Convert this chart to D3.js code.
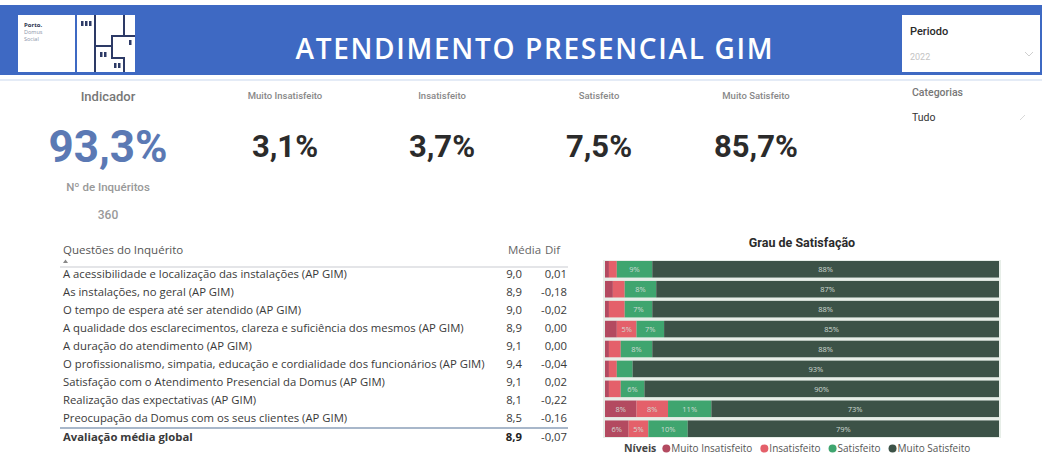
<!DOCTYPE html>
<html>
<head>
<meta charset="utf-8">
<script src="https://cdn.jsdelivr.net/npm/d3@7"></script>
<style>
  body { margin: 0; background: #fff; }
  svg { display: block; }
  .ui { font-family: "Open Sans", "Noto Sans", sans-serif; }
  .din { font-family: Roboto, "DejaVu Sans", sans-serif; }
</style>
</head>
<body>
<div id="chart"></div>
<script>
// ---------------- data ----------------
var title = "ATENDIMENTO PRESENCIAL GIM";
var periodo = "2022";
var categoria = "Tudo";
var indicador = 93.3;
var inqueritos = 360;

var levels = ["Muito Insatisfeito", "Insatisfeito", "Satisfeito", "Muito Satisfeito"];
var levelColors = ["#b34a60", "#e4606a", "#3fa56f", "#3c5247"];
var kpiValues = [3.1, 3.7, 7.5, 85.7];

var questions = [
  "A acessibilidade e localização das instalações (AP GIM)",
  "As instalações, no geral (AP GIM)",
  "O tempo de espera até ser atendido (AP GIM)",
  "A qualidade dos esclarecimentos, clareza e suficiência dos mesmos (AP GIM)",
  "A duração do atendimento (AP GIM)",
  "O profissionalismo, simpatia, educação e cordialidade dos funcionários (AP GIM)",
  "Satisfação com o Atendimento Presencial da Domus (AP GIM)",
  "Realização das expectativas (AP GIM)",
  "Preocupação da Domus com os seus clientes (AP GIM)"
];
var media = [9.0, 8.9, 9.0, 8.9, 9.1, 9.4, 9.1, 8.1, 8.5];
var dif = [0.01, -0.18, -0.02, 0.00, 0.00, -0.04, 0.02, -0.22, -0.16];
var totalLabel = "Avaliação média global";
var totalMedia = 8.9, totalDif = -0.07;

// % per level for each question (stacked bar)
var muitoInsatisfeito = [1, 2, 1, 3, 1, 1, 1, 8, 6];
var insatisfeito      = [2, 3, 4, 5, 3, 2, 3, 8, 5];
var satisfeito        = [9, 8, 7, 7, 8, 4, 6, 11, 10];
var muitoSatisfeito   = [88, 87, 88, 85, 88, 93, 90, 73, 79];

// ---------------- setup ----------------
var width = 1042, height = 454;
var pt = d3.formatLocale({decimal: ",", thousands: ".", grouping: [3], currency: ["", "€"], minus: "-"});
var f1 = pt.format(".1f"), f2 = pt.format(".2f");

var svg = d3.select("#chart").append("svg")
    .attr("width", width).attr("height", height);

// ---------------- header ----------------
svg.append("rect").attr("x", 0).attr("y", 5).attr("width", width).attr("height", 70)
    .style("fill", "#3e69c3");
svg.append("line").attr("x1", 0).attr("x2", width).attr("y1", 80).attr("y2", 80)
    .style("stroke", "#dbe5f3").style("stroke-width", 1.5);

// logo
var logo = svg.append("g");
logo.append("rect").attr("x", 18).attr("y", 15).attr("width", 57).attr("height", 57).style("fill", "#fff");
logo.append("rect").attr("x", 77).attr("y", 15).attr("width", 58).attr("height", 57).style("fill", "#fff");
logo.append("text").attr("class", "ui").attr("x", 24).attr("y", 27).style("font-size", "6px")
    .style("font-weight", 700).style("fill", "#2b3550").text("Porto.");
logo.append("text").attr("class", "ui").attr("x", 24).attr("y", 34).style("font-size", "5.5px")
    .style("fill", "#8a93a8").text("Domus");
logo.append("text").attr("class", "ui").attr("x", 24).attr("y", 41).style("font-size", "5.5px")
    .style("fill", "#8a93a8").text("Social");
logo.append("path")
    .attr("d", "M95,15 V72 M95,46 H112 V36 H124 V15 M112,46 V58 H124 V72 M124,36 H135")
    .style("fill", "none").style("stroke", "#2d3a66").style("stroke-width", 2);
[[81, 21], [85, 21], [89, 21], [100, 52], [104, 52], [114, 63], [118, 63], [129, 40]].forEach(function(p) {
  logo.append("rect").attr("x", p[0]).attr("y", p[1]).attr("width", 2.5).attr("height", 5).style("fill", "#2d3a66");
});

svg.append("text").attr("class", "ui")
    .attr("x", 534).attr("y", 59)
    .attr("text-anchor", "middle")
    .style("font-size", "28px").style("font-weight", 600).style("fill", "#fff")
    .attr("textLength", 477).attr("lengthAdjust", "spacing")
    .text(title);

// periodo slicer
svg.append("rect").attr("x", 902).attr("y", 15).attr("width", 138).attr("height", 57).style("fill", "#fff");
svg.append("text").attr("class", "din").attr("x", 910).attr("y", 35)
    .style("font-size", "11px").style("font-weight", 500).style("fill", "#2a2a2a").text("Periodo");
svg.append("text").attr("class", "din").attr("x", 910).attr("y", 60)
    .style("font-size", "9px").style("fill", "#c4c4c4").text(periodo);
svg.append("path").attr("d", "M1025,52 L1029,56 L1033,52").style("fill", "none")
    .style("stroke", "#cfcfcf").style("stroke-width", 1);

svg.append("text").attr("class", "din").attr("x", 912).attr("y", 96)
    .style("font-size", "10.5px").style("font-weight", 500).style("fill", "#777").text("Categorias");
svg.append("text").attr("class", "din").attr("x", 912).attr("y", 121)
    .style("font-size", "10.5px").style("fill", "#333").text(categoria);
svg.append("path").attr("d", "M1020,120 L1025,115").style("stroke", "#d8d8d8").style("stroke-width", 1);

// ---------------- KPI cards ----------------
svg.append("text").attr("class", "din").attr("x", 108).attr("y", 101).attr("text-anchor", "middle")
    .style("font-size", "13px").style("font-weight", 500).style("fill", "#777").text("Indicador");
svg.append("text").attr("class", "din").attr("x", 108).attr("y", 162).attr("text-anchor", "middle")
    .style("font-size", "44px").style("font-weight", 700).style("fill", "#5b79b4")
    .text(f1(indicador) + "%");
svg.append("text").attr("class", "din").attr("x", 108).attr("y", 191).attr("text-anchor", "middle")
    .style("font-size", "11.5px").style("font-weight", 500).style("fill", "#999").text("Nº de Inquéritos");
svg.append("text").attr("class", "din").attr("x", 108).attr("y", 219).attr("text-anchor", "middle")
    .style("font-size", "12px").style("font-weight", 500).style("fill", "#999").text(inqueritos);

var kpiX = d3.scalePoint().domain(levels).range([285, 756]);
var kpi = svg.append("g").selectAll("g").data(levels).enter().append("g")
    .attr("transform", function(d) { return "translate(" + kpiX(d) + ",0)"; });
kpi.append("text").attr("class", "din").attr("y", 99).attr("text-anchor", "middle")
    .style("font-size", "9.5px").style("font-weight", 500).style("fill", "#888")
    .text(function(d) { return d; });
kpi.append("text").attr("class", "din").attr("y", 157).attr("text-anchor", "middle")
    .style("font-size", "31px").style("font-weight", 700).style("fill", "#2b2b2b")
    .text(function(d, i) { return f1(kpiValues[i]) + "%"; });

// ---------------- table ----------------
var tableLeft = 63, colMedia = 522, colDif = 567, fs = "11.3px";
var tbl = svg.append("g").attr("class", "ui");
tbl.append("text").attr("x", tableLeft).attr("y", 254)
    .style("font-size", "11.5px").style("fill", "#555").text("Questões do Inquérito");
tbl.append("path").attr("d", "M63,263 L65.5,259.5 L68,263 Z").style("fill", "#888");
tbl.append("text").attr("x", 508).attr("y", 254)
    .style("font-size", "11.5px").style("fill", "#666").text("Média");
tbl.append("text").attr("x", 545).attr("y", 254)
    .style("font-size", "11.5px").style("fill", "#666").text("Dif");
tbl.append("line").attr("x1", 60).attr("x2", 568).attr("y1", 267).attr("y2", 267)
    .style("stroke", "#c9ccd2").style("stroke-width", 1.2);

var rowY = d3.scaleBand().domain(questions).range([265, 427]);
var rows = tbl.selectAll(".row").data(questions).enter().append("g")
    .attr("class", "row")
    .attr("transform", function(d) { return "translate(0," + (rowY(d) + rowY.bandwidth() / 2 + 4) + ")"; });
rows.append("text").attr("x", tableLeft)
    .style("font-size", fs).style("fill", "#3a3a3a").text(function(d) { return d; });
rows.append("text").attr("x", colMedia).attr("text-anchor", "end")
    .style("font-size", fs).style("fill", "#3a3a3a").text(function(d, i) { return f1(media[i]); });
rows.append("text").attr("x", colDif).attr("text-anchor", "end")
    .style("font-size", fs).style("fill", "#3a3a3a").text(function(d, i) { return f2(dif[i]); });

tbl.append("line").attr("x1", 60).attr("x2", 568).attr("y1", 428).attr("y2", 428)
    .style("stroke", "#8b9fb8").style("stroke-width", 1.4);
var totY = 441;
tbl.append("text").attr("x", tableLeft).attr("y", totY)
    .style("font-size", fs).style("font-weight", 700).style("fill", "#3a3a3a").text(totalLabel);
tbl.append("text").attr("x", colMedia).attr("y", totY).attr("text-anchor", "end")
    .style("font-size", fs).style("font-weight", 700).style("fill", "#222").text(f1(totalMedia));
tbl.append("text").attr("x", colDif).attr("y", totY).attr("text-anchor", "end")
    .style("font-size", fs).style("fill", "#3a3a3a").text(f2(totalDif));

// ---------------- stacked bar ----------------
svg.append("text").attr("class", "din").attr("x", 802).attr("y", 247).attr("text-anchor", "middle")
    .style("font-size", "12.5px").style("font-weight", 700).style("fill", "#2b2b2b").text("Grau de Satisfação");

var barData = questions.map(function(q, i) {
  return {q: q, "Muito Insatisfeito": muitoInsatisfeito[i], "Insatisfeito": insatisfeito[i],
          "Satisfeito": satisfeito[i], "Muito Satisfeito": muitoSatisfeito[i]};
});
var stack = d3.stack().keys(levels)(barData);

var x = d3.scaleLinear().domain([0, 100]).range([605, 999]);
var y = d3.scaleBand().domain(questions).range([261, 437]).paddingInner(0.17);
var color = d3.scaleOrdinal().domain(levels).range(levelColors);

svg.append("rect").attr("x", x(0) - 2).attr("y", y.range()[0] - 1)
    .attr("width", x(100) - x(0) + 4).attr("height", y.range()[1] - y.range()[0] + 2)
    .style("fill", "#e7eee8");

var layer = svg.append("g").selectAll("g").data(stack).enter().append("g")
    .style("fill", function(d) { return color(d.key); });
layer.selectAll("rect").data(function(d) { return d; }).enter().append("rect")
    .attr("x", function(d) { return x(d[0]); })
    .attr("y", function(d) { return y(d.data.q); })
    .attr("width", function(d) { return x(d[1]) - x(d[0]); })
    .attr("height", y.bandwidth());
layer.selectAll("text").data(function(d) { return d.filter(function(s) { return s[1] - s[0] >= 5; }); })
    .enter().append("text").attr("class", "ui")
    .attr("x", function(d) { return (x(d[0]) + x(d[1])) / 2; })
    .attr("y", function(d) { return y(d.data.q) + y.bandwidth() / 2 + 3; })
    .attr("text-anchor", "middle")
    .style("font-size", "7.5px").style("fill", "#d0dad3")
    .text(function(d) { return (d[1] - d[0]) + "%"; });

// legend
var lg = svg.append("g").attr("class", "ui").attr("transform", "translate(624,452)");
var lx = 0;
var nivel = lg.append("text").attr("x", lx).style("font-size", "10.5px").style("font-weight", 700)
    .style("fill", "#444").text("Níveis");
lx += nivel.node().getComputedTextLength() + 10;
levels.forEach(function(l) {
  lg.append("circle").attr("cx", lx).attr("cy", -3.5).attr("r", 4).style("fill", color(l));
  var t = lg.append("text").attr("x", lx + 5).style("font-size", "10px").style("fill", "#555").text(l);
  lx += t.node().getComputedTextLength() + 17;
});
</script>
</body>
</html>
